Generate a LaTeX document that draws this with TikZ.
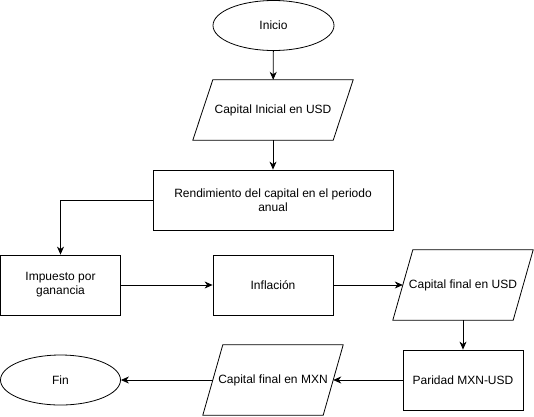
\documentclass[tikz,border=0pt]{standalone}
\usepackage{fontspec}
\setmainfont{Liberation Sans}
\usetikzlibrary{shapes.geometric,arrows.meta}
\tikzset{
  base/.style={inner sep=0pt, font=\fontsize{12}{14}\selectfont, align=center},
  proc/.style={base, draw, line width=0.8pt, rectangle, minimum width=120pt, minimum height=60pt},
  term/.style={base, draw, line width=0.8pt, ellipse, minimum width=120pt, minimum height=50pt},
  io/.style={base, rectangle, minimum height=70pt},
  arr/.style={line width=0.8pt, -{Stealth[length=8pt,width=7pt,inset=2.5pt]}},
  para/.style={line width=0.8pt}
}
\newcommand{\paraframe}[1]{%
  \draw[para] ([xshift=10pt]#1.north west) -- ([xshift=10pt]#1.north east)
    -- ([xshift=-10pt]#1.south east) -- ([xshift=-10pt]#1.south west) -- cycle;}
\begin{document}
\begin{tikzpicture}[x=1pt,y=-1pt]
\useasboundingbox (0,0) rectangle (534,416);
\node[term, minimum width=121pt] (ini) at (273.5,25.5) {Inicio};
\node[io, minimum width=140pt, minimum height=60pt] (ci) at (273,110) {Capital Inicial en USD};
\paraframe{ci}
\node[proc, minimum width=240pt] (ren) at (273,200) {Rendimiento del capital en el periodo\\anual};
\node[proc] (imp) at (60.5,285) {Impuesto por\\ganancia};
\node[proc] (inf) at (273,285) {Inflación};
\node[io, minimum width=120pt] (cfu) at (463,285) {Capital final en USD};
\paraframe{cfu}
\node[proc] (par) at (463,380) {Paridad MXN-USD};
\node[io, minimum width=120pt] (cfm) at (273,380) {Capital final en MXN};
\paraframe{cfm}
\node[term] (fin) at (60.5,380) {Fin};
\draw[arr] (ini) -- (ci);
\draw[arr] (ci) -- (ren);
\draw[arr] (ren.west) -| (imp.north);
\draw[arr] (imp) -- (inf);
\draw[arr] (inf) -- (cfu);
\draw[arr] (cfu) -- (par);
\draw[arr] (par) -- (cfm);
\draw[arr] (cfm) -- (fin);
\end{tikzpicture}
\end{document}
